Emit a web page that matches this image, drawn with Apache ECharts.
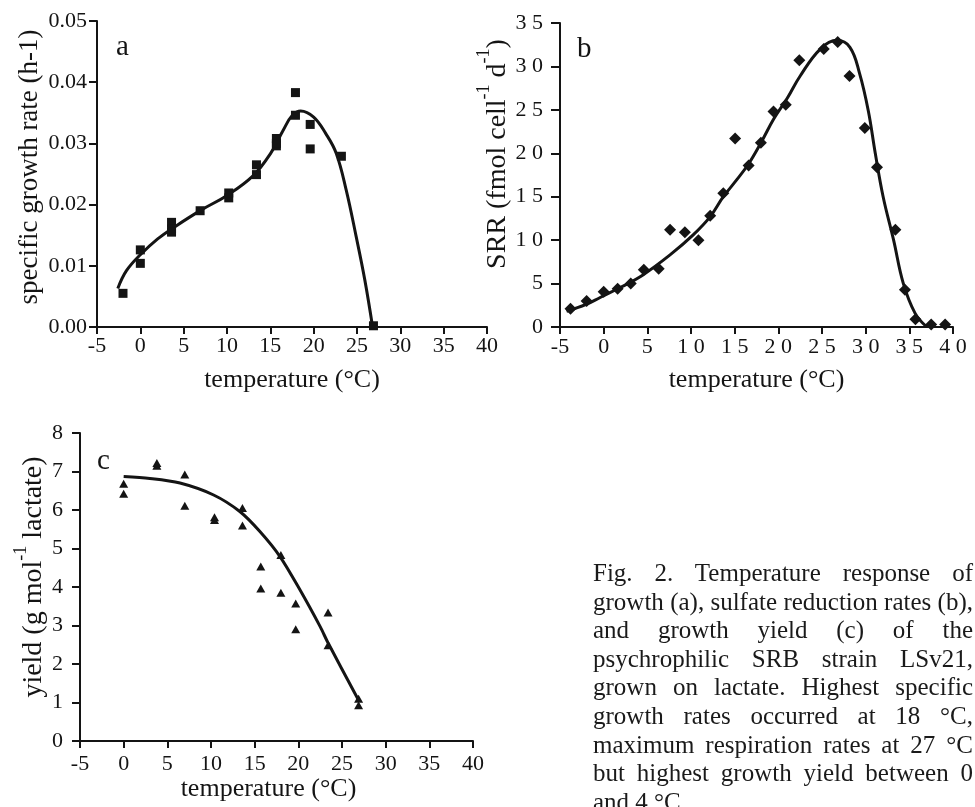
<!DOCTYPE html>
<html>
<head>
<meta charset="utf-8">
<script src="https://cdn.jsdelivr.net/npm/echarts@6/dist/echarts.min.js"></script>
<style>
  html, body { margin: 0; padding: 0; background: #fff; }
  #main { width: 975px; height: 807px; }
  #caption {
    position: absolute; left: 593px; top: 559px; width: 380px;
    font-family: 'Liberation Serif', serif; font-size: 25px; line-height: 28.6px; color: #1a1a1a;
  }
  #caption div { text-align: justify; text-align-last: justify; white-space: nowrap; }
  #caption div.last { text-align-last: left; }
</style>
</head>
<body>
<div id="main"></div>
<div id="caption">
  <div>Fig.&nbsp; 2.&nbsp; Temperature&nbsp; response&nbsp; of</div>
  <div>growth (a), sulfate reduction rates (b),</div>
  <div>and growth yield (c) of the</div>
  <div>psychrophilic SRB strain LSv21,</div>
  <div>grown on lactate. Highest specific</div>
  <div>growth rates occurred at 18 °C,</div>
  <div>maximum respiration rates at 27 °C</div>
  <div>but highest growth yield between 0</div>
  <div class="last">and 4 °C.</div>
</div>
<script>
// panel a: specific growth rate
var aTemp = [-2, 0, 0, 3.6, 3.6, 3.6, 6.9, 10.2, 10.2, 13.4, 13.4, 15.7, 15.7, 15.7, 17.9, 17.9, 19.6, 19.6, 23.2, 26.9];
var aRate = [0.0055, 0.0104, 0.0126, 0.0171, 0.0160, 0.0155, 0.0190, 0.0211, 0.0219, 0.0265, 0.0249, 0.0308, 0.0296, 0.0300, 0.0383, 0.0346, 0.0331, 0.0291, 0.0279, 0.0002];
var aFitT = [-2.6, -1.6, 0, 2, 4, 7, 10, 13, 15, 16.5, 17.5, 18.5, 20, 21.4, 22.6, 23.75, 24.9, 25.9, 26.8];
var aFitV = [0.0063, 0.0092, 0.0118, 0.0144, 0.0164, 0.0191, 0.0215, 0.0247, 0.0283, 0.0322, 0.0345, 0.0353, 0.0343, 0.0316, 0.0284, 0.0224, 0.0148, 0.0077, 0];

// panel b: sulfate reduction rate
var bTemp = [-3.8, -1.95, 0, 1.6, 3.1, 4.6, 6.3, 7.6, 9.3, 10.85, 12.2, 13.7, 15.05, 16.6, 18.0, 19.45, 20.85, 22.4, 25.2, 26.8, 28.15, 29.9, 31.3, 33.4, 34.5, 35.7, 37.5, 39.1];
var bSrr = [2.1, 3.0, 4.06, 4.4, 5.0, 6.6, 6.7, 11.2, 10.9, 10.0, 12.8, 15.4, 21.7, 18.6, 21.2, 24.8, 25.6, 30.7, 32.0, 32.8, 28.9, 22.9, 18.4, 11.2, 4.3, 0.9, 0.3, 0.3];
var bFitT = [-4.25, -2, -0.4, 2, 4.5, 7.6, 10.25, 12.2, 13.7, 15.2, 16.6, 18, 19.5, 21, 22.5, 24.8, 26.7, 28.2, 29.3, 30.3, 31.1, 32, 33.2, 34.3, 35.65, 37];
var bFitV = [1.8, 2.6, 3.4, 4.6, 6.0, 8.3, 10.6, 12.7, 15.0, 16.9, 18.8, 21.2, 24.0, 26.3, 28.9, 32.0, 33.0, 32.2, 29.2, 24.9, 20.0, 15.0, 10.0, 5.05, 1.6, 0];

// panel c: growth yield
var cTemp = [0, 0, 3.8, 3.8, 7.0, 7.0, 10.4, 10.4, 13.6, 13.6, 15.7, 15.7, 18.0, 18.0, 19.7, 19.7, 23.4, 23.4, 26.9, 26.9];
var cYield = [6.68, 6.42, 7.22, 7.15, 6.92, 6.11, 5.81, 5.74, 6.05, 5.6, 4.53, 3.96, 4.83, 3.85, 3.57, 2.9, 3.34, 2.49, 1.1, 0.93];
var cFitT = [0, 3, 6.45, 10.3, 13.3, 15.6, 17.9, 20.2, 22.5, 23.4, 26.9];
var cFitV = [6.87, 6.82, 6.70, 6.39, 5.96, 5.44, 4.79, 3.92, 2.97, 2.55, 1.06];

function zip(xs, ys) { return xs.map(function (x, i) { return [x, ys[i]]; }); }

var FONT = 'Liberation Serif';
var INK = '#141414';

function xAx(grid, nameGap, labelMargin, fmt, namePad) {
  return {
    gridIndex: grid, type: 'value', min: -5, max: 40, interval: 5,
    name: 'temperature (°C)', nameLocation: 'middle', nameGap: nameGap,
    nameTextStyle: { fontFamily: FONT, fontSize: 26, color: INK, padding: namePad || 0 },
    axisLine: { show: true, onZero: false, lineStyle: { color: INK, width: 2 } },
    axisTick: { show: true, length: 7, lineStyle: { color: INK, width: 2 } },
    axisLabel: { fontFamily: FONT, fontSize: 22, color: INK, margin: labelMargin, formatter: fmt },
    splitLine: { show: false }
  };
}
function yAx(grid, max, interval, name, nameSize, nameGap, tickLen, labelMargin, fmt, namePad, rich) {
  return {
    gridIndex: grid, type: 'value', min: 0, max: max, interval: interval,
    name: name, nameLocation: 'middle', nameGap: nameGap, nameRotate: 90,
    nameTextStyle: { fontFamily: FONT, fontSize: nameSize, color: INK, padding: namePad, rich: rich },
    axisLine: { show: true, onZero: false, lineStyle: { color: INK, width: 2 } },
    axisTick: { show: true, length: tickLen, lineStyle: { color: INK, width: 2 } },
    axisLabel: { fontFamily: FONT, fontSize: 22, color: INK, margin: labelMargin, formatter: fmt },
    splitLine: { show: false }
  };
}
function spaced(v) { return String(v).split('').join(' ').replace('- ', '-'); }

var supRich = {
  n: { fontFamily: FONT, fontSize: 28, color: INK, lineHeight: 36, verticalAlign: 'bottom' },
  s: { fontFamily: FONT, fontSize: 18, color: INK, lineHeight: 36, verticalAlign: 'top' }
};

var chart = echarts.init(document.getElementById('main'), null, { renderer: 'canvas' });
chart.setOption({
  backgroundColor: '#fff',
  animation: false,
  grid: [
    { left: 97, right: 488, top: 21, bottom: 480, outerBoundsMode: 'none' },
    { left: 560, right: 22, top: 23, bottom: 480, outerBoundsMode: 'none' },
    { left: 80, right: 502, top: 433, bottom: 66, outerBoundsMode: 'none' }
  ],
  xAxis: [
    xAx(0, 40, 8),
    xAx(1, 40, 9, spaced),
    xAx(2, 33, 12, null, [0, 16, 0, 0])
  ],
  yAxis: [
    yAx(0, 0.05, 0.01, 'specific growth rate (h-1)', 27, 54, 8, 10, function (v) { return v.toFixed(2); }, [0, 0, 0, 14]),
    yAx(1, 35, 5, '{n|SRR (fmol cell}{s|-1}{n| d}{s|-1}{n|)}', 28, 36, 9, 17, spaced, [0, 0, 0, 42], supRich),
    yAx(2, 8, 1, '{n|yield (g mol}{s|-1}{n| lactate)}', 28, 30, 8, 17, null, [0, 0, 0, 20], supRich)
  ],
  graphic: [
    { type: 'text', left: 116, top: 33, style: { text: 'a', font: '29px "Liberation Serif"', fill: INK } },
    { type: 'text', left: 577, top: 35, style: { text: 'b', font: '29px "Liberation Serif"', fill: INK } },
    { type: 'text', left: 97, top: 447, style: { text: 'c', font: '29px "Liberation Serif"', fill: INK } }
  ],
  series: [
    { type: 'scatter', xAxisIndex: 0, yAxisIndex: 0, symbol: 'rect', symbolSize: 9,
      itemStyle: { color: INK, opacity: 1 }, data: zip(aTemp, aRate), z: 3 },
    { type: 'line', xAxisIndex: 0, yAxisIndex: 0, smooth: 0.4, showSymbol: false,
      lineStyle: { color: INK, width: 3 }, data: zip(aFitT, aFitV) },
    { type: 'scatter', xAxisIndex: 1, yAxisIndex: 1, symbol: 'diamond', symbolSize: [12, 12],
      itemStyle: { color: INK, opacity: 1 }, data: zip(bTemp, bSrr), z: 3 },
    { type: 'line', xAxisIndex: 1, yAxisIndex: 1, smooth: 0.4, showSymbol: false,
      lineStyle: { color: INK, width: 3 }, data: zip(bFitT, bFitV) },
    { type: 'scatter', xAxisIndex: 2, yAxisIndex: 2, symbol: 'triangle', symbolSize: [9, 8],
      itemStyle: { color: INK, opacity: 1 }, data: zip(cTemp, cYield), z: 3 },
    { type: 'line', xAxisIndex: 2, yAxisIndex: 2, smooth: 0.3, showSymbol: false,
      lineStyle: { color: INK, width: 3 }, data: zip(cFitT, cFitV) }
  ]
});
</script>
</body>
</html>
